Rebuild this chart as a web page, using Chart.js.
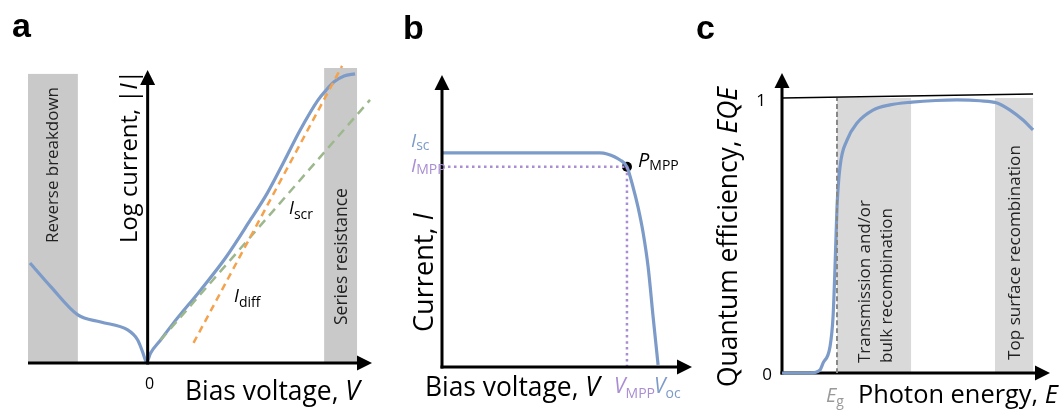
<!DOCTYPE html>
<html><head><meta charset="utf-8">
<script src="https://cdn.jsdelivr.net/npm/chart.js@4.4.0/dist/chart.umd.min.js"></script>
<style>
html,body{margin:0;padding:0;background:#fff;}
#wrap{position:relative;width:1063px;height:413px;overflow:hidden;}
canvas{position:absolute;left:0;top:0;}
</style></head><body><div id="wrap">
<canvas id="ca" width="1063" height="413"></canvas>
<canvas id="cb" width="1063" height="413"></canvas>
<canvas id="cc" width="1063" height="413"></canvas>
</div>
<script>
// ---------- Panel a: log |I| vs V ----------
const aVoltage    = [-1.18,-0.97,-0.70,-0.47,-0.20,-0.10,-0.05,-0.01,0.03,0.13,0.26,0.53,0.78,1.03,1.20,1.36,1.53,1.71,1.79,1.87,1.97,2.08];
const aLogCurrent = [ 3.39, 2.58, 1.63, 1.39, 1.12, 0.78, 0.37, 0.03,0.34,0.78,1.36,2.47,3.56,4.85,5.76,6.78,7.90,8.92,9.25,9.53,9.73,9.80];
const aDiffVoltage = [0.46, 1.95];
const aDiffLogI    = [0.68, 10.07];
const aScrVoltage  = [0.13, 2.23];
const aScrLogI     = [0.78, 8.92];
const aBandStart = [-1.20, 1.77];
const aBandEnd   = [-0.70, 2.10];
const aBandTop   = [9.8, 10.0];
const aBandLabels = ['Reverse breakdown', 'Series resistance'];

// ---------- Panel b: I-V curve ----------
const bVoltage = [0, 0.30, 0.60, 0.731, 0.764, 0.824, 0.856, 0.884, 0.907, 0.931, 0.954, 0.977, 1.0];
const bCurrent = [1.0, 1.0, 1.0, 1.0, 0.995, 0.967, 0.935, 0.841, 0.748, 0.626, 0.467, 0.234, 0.01];
const bMppVoltage = 0.856;
const bMppCurrent = 0.935;

// ---------- Panel c: EQE vs photon energy ----------
const cEnergy = [0.5, 0.755, 0.845, 0.873, 0.936, 0.964, 0.982, 1.0, 1.027, 1.091, 1.182, 1.327, 1.482, 1.682, 1.9, 2.091, 2.3, 2.455, 2.573, 2.691, 2.782];
const cEQE    = [0, 0, 0.011, 0.036, 0.095, 0.204, 0.385, 0.604, 0.749, 0.847, 0.909, 0.956, 0.975, 0.985, 0.991, 0.993, 0.99, 0.982, 0.956, 0.92, 0.884];
const cUnityEnergy = [0.5, 2.782];
const cUnityEQE    = [1.0, 1.0145];
const cBandgap = 1.0;
const cBandStart = [1.0, 2.436];
const cBandEnd   = [1.673, 2.782];
const cBandTop   = 1.0;

const BLUE = '#7d9bc8', ORANGE = '#f4a24c', GREEN = '#9db88c', PURPLE = '#a88dd3';
const FAM = "'Open Sans','Liberation Sans',sans-serif";
const BOLD = "'Liberation Sans',Arial,sans-serif";

function fnt(size, style, weight, fam){ return (style||'normal')+' '+(weight||'normal')+' '+size+'px '+(fam||FAM); }
function drawRich(ctx, parts, o){
  ctx.save();
  let k = 1;
  const measure = () => { let w = 0; for (const p of parts){ ctx.font = fnt(p.size*k, p.style, p.weight, p.fam); w += ctx.measureText(p.text).width; } return w; };
  let w = measure();
  if (o.width){ k = o.width / w; w = measure(); }
  ctx.translate(o.x, o.y);
  if (o.rot) ctx.rotate(o.rot);
  let x0 = o.align === 'right' ? -w : (o.align === 'center' ? -w/2 : 0);
  ctx.textBaseline = 'alphabetic'; ctx.textAlign = 'left';
  for (const p of parts){
    ctx.font = fnt(p.size*k, p.style, p.weight, p.fam);
    ctx.fillStyle = p.color || o.color || '#000';
    ctx.fillText(p.text, x0, (p.dy||0)*k);
    x0 += ctx.measureText(p.text).width;
  }
  ctx.restore();
}
function arrow(ctx, x1, y1, x2, y2, lw, head, hw){
  const ang = Math.atan2(y2-y1, x2-x1);
  ctx.save();
  ctx.strokeStyle = '#000'; ctx.fillStyle = '#000'; ctx.lineWidth = lw; ctx.lineCap = 'butt';
  ctx.beginPath(); ctx.moveTo(x1, y1); ctx.lineTo(x2 - Math.cos(ang)*head*0.8, y2 - Math.sin(ang)*head*0.8); ctx.stroke();
  ctx.translate(x2, y2); ctx.rotate(ang);
  ctx.beginPath(); ctx.moveTo(0,0); ctx.lineTo(-head,-hw); ctx.lineTo(-head,hw); ctx.closePath(); ctx.fill();
  ctx.restore();
}
function pts(xs, ys){ return xs.map((x,i)=>({x, y: ys[i]})); }
function line(data, color, width, dash, extra){
  return Object.assign({data, showLine:true, borderColor:color, backgroundColor:color, borderWidth:width,
    borderDash:dash||[], pointRadius:0, clip:false, cubicInterpolationMode:'monotone'}, extra||{});
}
function makeChart(id, area, xr, yr, datasets, plugin){
  return new Chart(document.getElementById(id), {
    type:'scatter',
    data:{datasets},
    options:{
      responsive:false, animation:false, devicePixelRatio:1,
      layout:{padding:{left:area[0], top:area[1], right:1063-area[2], bottom:413-area[3]}},
      scales:{x:{type:'linear', display:false, min:xr[0], max:xr[1]}, y:{type:'linear', display:false, min:yr[0], max:yr[1]}},
      plugins:{legend:{display:false}, tooltip:{enabled:false}, title:{display:false}},
      events:[]
    },
    plugins:[plugin]
  });
}
const ROT = -Math.PI/2;

// ----- Panel a -----
makeChart('ca', [28, 68, 372, 363], [-1.2, 2.25], [0, 10], [
  line(pts(aDiffVoltage, aDiffLogI), ORANGE, 2.5, [7,5]),
  line(pts(aScrVoltage, aScrLogI), GREEN, 2.5, [9,6]),
  line(pts(aVoltage, aLogCurrent), BLUE, 3.2, [])
], {
  id:'pa',
  beforeDatasetsDraw(chart){
    const {ctx, scales:{x, y}} = chart;
    ctx.save(); ctx.fillStyle = '#c9c9c9';
    aBandStart.forEach((s,i)=>{
      const x1 = x.getPixelForValue(s), x2 = x.getPixelForValue(aBandEnd[i]);
      const yt = y.getPixelForValue(aBandTop[i]), yb = y.getPixelForValue(0);
      ctx.fillRect(x1, yt, x2-x1, yb-yt);
    });
    ctx.restore();
    drawRich(ctx, [{text:aBandLabels[0], size:16}], {x:58, y:243, rot:ROT, width:156, color:'#222'});
    drawRich(ctx, [{text:aBandLabels[1], size:16}], {x:347, y:325, rot:ROT, width:137, color:'#222'});
  },
  afterDatasetsDraw(chart){
    const {ctx, chartArea:ca, scales:{x, y}} = chart;
    const x0 = x.getPixelForValue(0), y0 = y.getPixelForValue(0);
    arrow(ctx, ca.left, y0, ca.right, y0, 3, 15, 7.5);
    arrow(ctx, x0, y0+1.5, x0, ca.top+2, 3, 15, 7.5);
    drawRich(ctx, [{text:'0', size:16}], {x:x0+2, y:389, align:'center'});
    drawRich(ctx, [{text:'Bias voltage, ', size:24}, {text:'V', size:24, style:'italic'}], {x:185, y:400, width:175});
    drawRich(ctx, [{text:'Log current, |', size:24}, {text:'I', size:24, style:'italic'}, {text:'|', size:24}], {x:137, y:243, rot:ROT, width:173});
    drawRich(ctx, [{text:'I', size:18, style:'italic'}, {text:'scr', size:14, dy:5}], {x:289, y:214});
    drawRich(ctx, [{text:'I', size:18, style:'italic'}, {text:'diff', size:14, dy:5}], {x:234, y:302});
    drawRich(ctx, [{text:'a', size:34, weight:'bold', fam:BOLD}], {x:12, y:37});
  }
});

// ----- Panel b -----
makeChart('cb', [442, 75, 692, 367], [0, 1.157], [0, 1.364], [
  line(pts([0, bMppVoltage], [bMppCurrent, bMppCurrent]), PURPLE, 2.5, [2.5,3.5]),
  line(pts([bMppVoltage, bMppVoltage], [bMppCurrent, 0]), PURPLE, 2.5, [2.5,3.5]),
  line(pts(bVoltage, bCurrent), BLUE, 3.2, []),
  {data:[{x:bMppVoltage, y:bMppCurrent}], pointRadius:5, pointBackgroundColor:'#000', pointBorderWidth:0, showLine:false, clip:false}
], {
  id:'pb',
  afterDatasetsDraw(chart){
    const {ctx, chartArea:ca, scales:{x, y}} = chart;
    const x0 = x.getPixelForValue(0), y0 = y.getPixelForValue(0);
    arrow(ctx, x0-1.5, y0, ca.right, y0, 3, 15, 7.5);
    arrow(ctx, x0, y0+1.5, x0, ca.top, 3, 15, 7.5);
    drawRich(ctx, [{text:'I', size:19, style:'italic'}, {text:'sc', size:14, dy:3}], {x:411, y:147, color:BLUE});
    drawRich(ctx, [{text:'I', size:19, style:'italic'}, {text:'MPP', size:14, dy:2}], {x:411, y:172, color:PURPLE});
    drawRich(ctx, [{text:'P', size:20, style:'italic'}, {text:'MPP', size:14, dy:3}], {x:638, y:167});
    drawRich(ctx, [{text:'Bias voltage, ', size:24}, {text:'V', size:24, style:'italic'}], {x:425, y:396, width:175});
    drawRich(ctx, [{text:'Current, ', size:24}, {text:'I', size:24, style:'italic'}], {x:433, y:332, rot:ROT, width:119});
    drawRich(ctx, [{text:'V', size:21, style:'italic'}, {text:'MPP', size:14, dy:5}], {x:614, y:393, color:PURPLE});
    drawRich(ctx, [{text:'V', size:21, style:'italic'}, {text:'oc', size:14, dy:5}], {x:654, y:393, color:BLUE});
    drawRich(ctx, [{text:'b', size:34, weight:'bold', fam:BOLD}], {x:403, y:39});
  }
});

// ----- Panel c -----
makeChart('cc', [782, 73, 1050, 373], [0.5, 2.936], [0, 1.091], [
  line(pts(cUnityEnergy, cUnityEQE), '#000', 1.5, []),
  line(pts([cBandgap, cBandgap], [0, cUnityEQE[0]]), '#888', 2, [5,3]),
  line(pts(cEnergy, cEQE), BLUE, 3.2, [])
], {
  id:'pc',
  beforeDatasetsDraw(chart){
    const {ctx, scales:{x, y}} = chart;
    ctx.save(); ctx.fillStyle = '#d9d9d9';
    cBandStart.forEach((s,i)=>{
      const x1 = x.getPixelForValue(s), x2 = x.getPixelForValue(cBandEnd[i]);
      const yt = y.getPixelForValue(cBandTop), yb = y.getPixelForValue(0);
      ctx.fillRect(x1, yt, x2-x1, yb-yt);
    });
    ctx.restore();
    drawRich(ctx, [{text:'Transmission and/or', size:18}], {x:870, y:363, rot:ROT, width:163, color:'#222'});
    drawRich(ctx, [{text:'bulk recombination', size:18}], {x:892, y:363, rot:ROT, width:155, color:'#222'});
    drawRich(ctx, [{text:'Top surface recombination', size:18}], {x:1020, y:360, rot:ROT, width:215, color:'#222'});
    const x0 = x.getPixelForValue(0.5), y0 = y.getPixelForValue(0);
    const ca = chart.chartArea;
    arrow(ctx, x0-1.5, y0, ca.right, y0, 3, 15, 7.5);
    arrow(ctx, x0, y0+1.5, x0, ca.top, 3, 15, 7.5);
  },
  afterDatasetsDraw(chart){
    const {ctx} = chart;
    drawRich(ctx, [{text:'1', size:17}], {x:766, y:106, align:'right'});
    drawRich(ctx, [{text:'0', size:17}], {x:772, y:380, align:'right'});
    drawRich(ctx, [{text:'E', size:20, style:'italic'}, {text:'g', size:14, dy:4}], {x:826, y:402, color:'#999'});
    drawRich(ctx, [{text:'Photon energy, ', size:24}, {text:'E', size:24, style:'italic'}], {x:858, y:403, width:200});
    drawRich(ctx, [{text:'Quantum efficiency, ', size:26}, {text:'EQE', size:26, style:'italic'}], {x:737, y:387, rot:ROT, width:300});
    drawRich(ctx, [{text:'c', size:34, weight:'bold', fam:BOLD}], {x:696, y:39});
  }
});
</script>
</body></html>
